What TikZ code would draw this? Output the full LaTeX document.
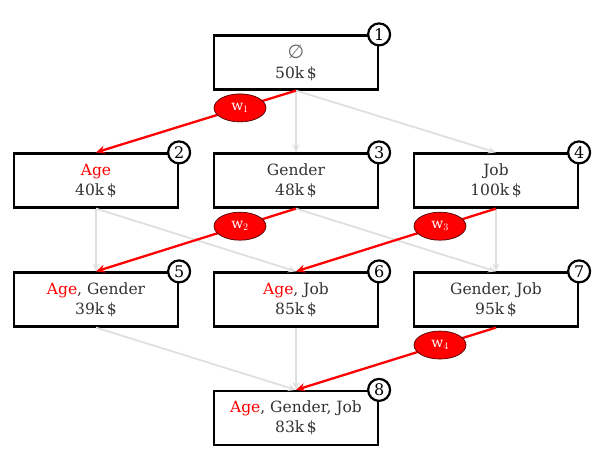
\documentclass[tikz,border=0pt]{standalone}
\usepackage{fontspec}
\setmainfont{DejaVu Serif}
\newfontfamily\symfont{DejaVu Sans}
\usetikzlibrary{arrows.meta,shapes.geometric}
\definecolor{txtgray}{HTML}{333333}
\definecolor{edgegray}{HTML}{E0E0E0}
\definecolor{hired}{HTML}{FF0000}
\tikzset{
  box/.style={draw=black, line width=2.2pt, fill=white, minimum width=164pt, minimum height=54pt,
    inner sep=0pt, align=center, text=txtgray, font=\fontsize{15.5}{20}\selectfont},
  numc/.style={circle, draw=black, line width=2.2pt, fill=white, minimum size=22pt, inner sep=0pt,
    font=\fontsize{16}{16}\selectfont, text=black},
  grayedge/.style={draw=edgegray, line width=1.8pt, -{Stealth[length=8pt,width=7pt]}},
  rededge/.style={draw=hired, line width=2.3pt, -{Stealth[length=9pt,width=8pt]}},
  wlab/.style={ellipse, draw=black!70!red, line width=0.7pt, fill=hired, minimum width=52pt, minimum height=28pt,
    inner sep=0pt, text=white, font=\fontsize{14}{14}\selectfont},
}
\newcommand{\hl}[1]{\textcolor{hired}{#1}}
\newcommand{\emptysym}{\textcolor{black!60}{\symfont\fontsize{19}{20}\selectfont ∅}}
\begin{document}
\begin{tikzpicture}[x=1pt,y=-1pt]
\useasboundingbox (0,0) rectangle (596,457);
\node[box] (b1) at (296,62.5) {\emptysym\\50k\,\$};
\node[box] (b2) at (96,180.5) {\hl{Age}\\40k\,\$};
\node[box] (b3) at (296,180.5) {Gender\\48k\,\$};
\node[box] (b4) at (496,180.5) {Job\\100k\,\$};
\node[box] (b5) at (96,299.5) {\hl{Age}, Gender\\39k\,\$};
\node[box] (b6) at (296,299.5) {\hl{Age}, Job\\85k\,\$};
\node[box] (b7) at (496,299.5) {Gender, Job\\95k\,\$};
\node[box] (b8) at (296,418) {\hl{Age}, Gender, Job\\83k\,\$};
\foreach \i in {1,...,8} {\node[numc] (c\i) at (b\i.north east) {\i};}
% gray edges
\draw[grayedge] (b1.south) -- (b3.north);
\draw[grayedge] (b1.south) -- (b4.north);
\draw[grayedge] (b2.south) -- (b5.north);
\draw[grayedge] (b2.south) -- (b6.north);
\draw[grayedge] (b3.south) -- (b7.north);
\draw[grayedge] (b4.south) -- (b7.north);
\draw[grayedge] (b5.south) -- (b8.north);
\draw[grayedge] (b6.south) -- (b8.north);
% red edges
\draw[rededge] (b1.south) -- node[wlab, pos=0.28] (w1) {w$_1$} (b2.north);
\draw[rededge] (b3.south) -- node[wlab, pos=0.28] (w2) {w$_2$} (b5.north);
\draw[rededge] (b4.south) -- node[wlab, pos=0.28] (w3) {w$_3$} (b6.north);
\draw[rededge] (b7.south) -- node[wlab, pos=0.28] (w4) {w$_4$} (b8.north);
\end{tikzpicture}
\end{document}
